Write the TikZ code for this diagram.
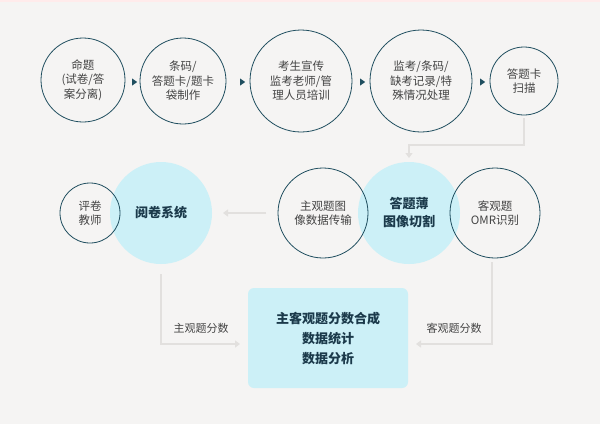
\documentclass[tikz,border=0pt]{standalone}
\usepackage{fontspec}
\setmainfont{Noto Sans CJK SC}
\usetikzlibrary{shapes.geometric,arrows.meta}
\definecolor{bg}{HTML}{F5F4F3}
\definecolor{ring}{HTML}{1F4E5F}
\definecolor{cyanf}{HTML}{CCF0F7}
\definecolor{txt}{HTML}{444444}
\definecolor{btxt}{HTML}{1B3A4B}
\definecolor{conn}{HTML}{E2E0DE}
\begin{document}
\begin{tikzpicture}[x=1pt,y=-1pt,
  ring/.style={circle,draw=ring,line width=0.8pt,inner sep=0pt,align=center,text=txt,font=\fontsize{11.5}{14.5}\selectfont},
  fillc/.style={circle,fill=cyanf,inner sep=0pt,align=center,text=btxt,font=\fontsize{13}{18}\selectfont\bfseries},
  conn/.style={draw=conn,line width=2pt,-{Triangle[width=7pt,length=5pt]}},
  tri/.style={fill=ring,isosceles triangle,isosceles triangle apex angle=70,inner sep=0pt,minimum width=7pt,minimum height=4pt},
  lbl/.style={text=txt,font=\fontsize{11}{13}\selectfont}]
\fill[bg] (0,0) rectangle (600,424);
\fill[red!8] (0,0) rectangle (600,1.5);
% top row
\node[ring,minimum size=84pt] (c1) at (83,80) {命题\\(试卷/答\\案分离)};
\node[ring,minimum size=86pt] (c2) at (183,81) {条码/\\答题卡/题卡\\袋制作};
\node[ring,minimum size=102pt] (c3) at (301,81) {考生宣传\\监考老师/管\\理人员培训};
\node[ring,minimum size=102pt] (c4) at (421,81) {监考/条码/\\缺考记录/特\\殊情况处理};
\node[ring,minimum size=68pt] (c5) at (524,81) {答题卡\\扫描};
\node[tri] (t1) at (134,82) {};
\node[tri] (t2) at (242,82) {};
\node[tri] (t3) at (362,82) {};
\node[tri] (t4) at (482,82) {};
% middle row
\node[fillc,minimum size=102pt] (f1) at (161,213) {阅卷系统};
\node[fillc,minimum size=102pt] (f2) at (409,213) {答题薄\\图像切割};
\node[ring,minimum size=60pt] (r1) at (90,213) {评卷\\教师};
\node[ring,minimum size=90pt] (r2) at (323,213) {主观题图\\像数据传输};
\node[ring,minimum size=90pt] (r3) at (495,213) {客观题\\OMR识别};
% box
\node[fill=cyanf,rounded corners=6pt,minimum width=160pt,minimum height=100pt,align=center,text=btxt,font=\fontsize{13}{20}\selectfont\bfseries] (box) at (328,338) {主客观题分数合成\\数据统计\\数据分析};
% connectors
\coordinate (a1) at (524,118);
\coordinate (a2) at (524,145);
\coordinate (a3) at (409,145);
\coordinate (a4) at (409,158);
\draw[conn] (a1) -- (a2) -- (a3) -- (a4);
\coordinate (b1) at (266,213);
\coordinate (b2) at (223,213);
\draw[conn] (b1) -- (b2);
\coordinate (l1) at (161,274);
\coordinate (l2) at (161,344);
\coordinate (l3) at (240,344);
\draw[conn] (l1) -- (l2) -- (l3);
\coordinate (q1) at (492,262);
\coordinate (q2) at (492,344);
\coordinate (q3) at (416,344);
\draw[conn] (q1) -- (q2) -- (q3);
\node[lbl] (lab1) at (201,328) {主观题分数};
\node[lbl] (lab2) at (454,328) {客观题分数};
\end{tikzpicture}
\end{document}
